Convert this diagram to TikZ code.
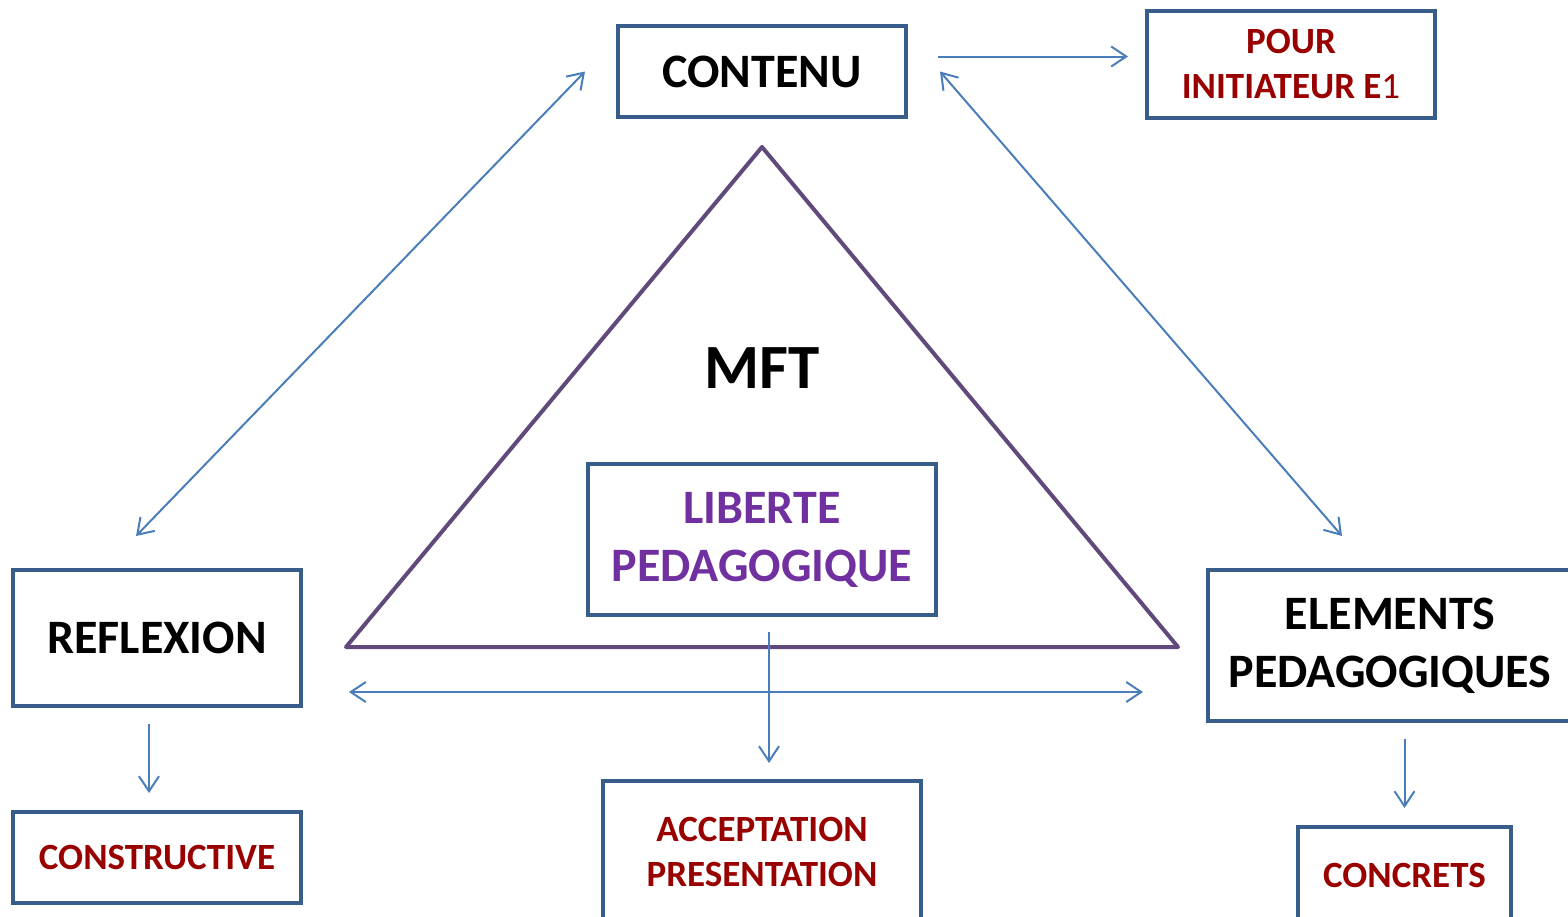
\documentclass[tikz,border=0pt]{standalone}
\usepackage{fontspec}
\setmainfont{Carlito}
\usetikzlibrary{arrows.meta}
\definecolor{boxblue}{RGB}{56,93,138}
\definecolor{lineblue}{RGB}{74,126,187}
\definecolor{tripurple}{RGB}{96,74,123}
\definecolor{txtred}{RGB}{153,0,0}
\definecolor{txtpurple}{RGB}{112,48,160}
\tikzset{
  box/.style={draw=boxblue, line width=4pt, align=center, inner sep=0pt},
  big/.style={font=\bfseries\fontsize{48}{58}\selectfont},
  small/.style={font=\bfseries\fontsize{37}{45}\selectfont, text=txtred},
  link/.style={draw=lineblue, line width=2pt, -{Straight Barb[length=15pt,width=20pt]}},
  dbllink/.style={link, {Straight Barb[length=15pt,width=20pt]}-{Straight Barb[length=15pt,width=20pt]}}
}
\begin{document}
\begin{tikzpicture}[x=1pt, y=-1pt]
    \useasboundingbox (0,0) rectangle (1568,916);
    % triangle
    \draw [tripurple, line width=4pt, line join=round] (762,147) -- (346,647) -- (1178,647) -- cycle;
    \node (mft) at (762,368) [font=\bfseries\fontsize{63}{70}\selectfont] {MFT};
    % boxes
    \node (contenu) at (762,71.5) [box, big, minimum width=288pt, minimum height=91pt] {CONTENU};
    \node (pour) at (1291,64) [box, small, minimum width=288pt, minimum height=107pt] {POUR\\INITIATEUR E{\mdseries 1}};
    \node (reflexion) at (157,638) [box, big, minimum width=288pt, minimum height=136pt] {REFLEXION};
    \node (elements) at (1390,645.5) [box, big, minimum width=364pt, minimum height=151pt] {ELEMENTS\\PEDAGOGIQUES};
    \node (liberte) at (762,539.5) [box, big, text=txtpurple, minimum width=348pt, minimum height=151pt] {LIBERTE\\PEDAGOGIQUE};
    \node (constructive) at (157,857.5) [box, small, minimum width=288pt, minimum height=91pt] {CONSTRUCTIVE};
    \node (acceptation) at (762,852) [box, small, minimum width=318pt, minimum height=142pt] {ACCEPTATION\\PRESENTATION};
    \node (concrets) at (1404.5,875) [box, small, minimum width=213pt, minimum height=96pt] {CONCRETS};
    % arrows
    \draw [dbllink] ([xshift=-31pt]contenu.west) -- ([xshift=-21pt,yshift=32pt]reflexion.north);
    \draw [dbllink] ([xshift=32pt]contenu.east) -- ([xshift=-48pt,yshift=32pt]elements.north);
    \coordinate (pourstart) at ([xshift=30pt,yshift=15pt]contenu.east);
    \draw [link, shorten >=17pt] (pourstart) -- (pourstart -| pour.west);
    \coordinate (basestart) at ([xshift=46pt,yshift=16pt]reflexion.south east);
    \draw [dbllink, shorten >=63pt] (basestart) -- (basestart -| elements.west);
    \draw [link, shorten <=15pt, shorten >=16pt] ([xshift=7pt]liberte.south) -- ([xshift=7pt]acceptation.north);
    \draw [link, shorten <=16pt, shorten >=17pt] ([xshift=-8pt]reflexion.south) -- ([xshift=-8pt]constructive.north);
    \draw [link, shorten <=16pt, shorten >=17pt] (elements.south -| concrets.north) -- (concrets.north);
\end{tikzpicture}
\end{document}
